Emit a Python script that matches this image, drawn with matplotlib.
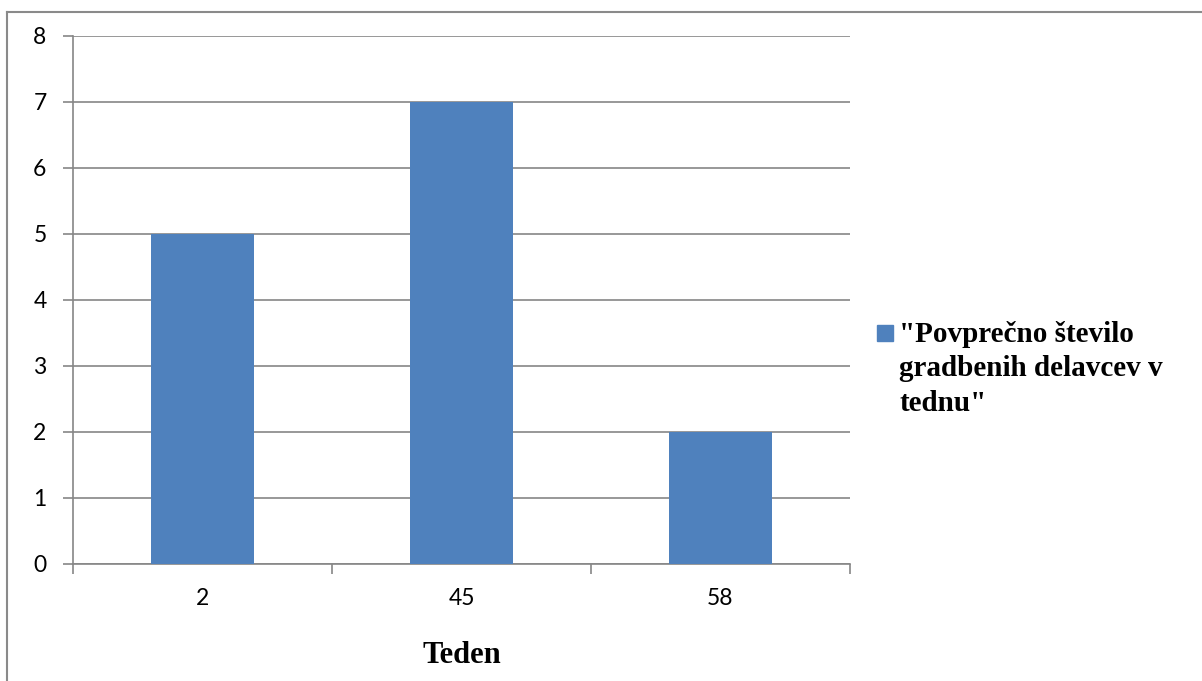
import matplotlib
matplotlib.use("Agg")
import matplotlib.pyplot as plt
from matplotlib.patches import Rectangle
from matplotlib.lines import Line2D

# weekly values
weeks = ["2", "45", "58"]
workers = [5, 7, 2]
series_label = '"Povprečno število\ngradbenih delavcev v\ntednu"'
x_label = "Teden"

bar_color = "#4F81BD"
grid_color = "#868686"

fig = plt.figure(figsize=(12.02, 6.81), dpi=100)
ax = fig.add_axes([73 / 1202, 1 - 564 / 681, 777 / 1202, 528 / 681])

pos = list(range(len(weeks)))
ax.bar(pos, workers, width=0.4, color=bar_color, zorder=3)

ax.set_xlim(-0.5, len(weeks) - 0.5)
ax.set_ylim(0, 8)
ax.set_yticks(range(0, 9))
ax.yaxis.grid(True, color=grid_color, linewidth=1.2, zorder=0)

# category labels in the middle, tick marks on the boundaries
ax.set_xticks(pos)
ax.set_xticklabels(weeks)
ax.set_xticks([p - 0.5 for p in pos] + [len(weeks) - 0.5], minor=True)
ax.tick_params(axis="x", which="major", length=0, pad=17.5, labelsize=16.5)
ax.tick_params(axis="x", which="minor", length=7, width=1.2, color=grid_color)
ax.tick_params(axis="y", length=7, width=1.2, color=grid_color, pad=12, labelsize=16.5)
for lab in ax.get_xticklabels() + ax.get_yticklabels():
    lab.set_fontfamily("Lato")

for side in ["top", "right"]:
    ax.spines[side].set_visible(False)
for side in ["left", "bottom"]:
    ax.spines[side].set_color(grid_color)
    ax.spines[side].set_linewidth(1.2)

ax.set_xlabel(x_label, fontfamily="Liberation Serif", fontweight="bold",
              fontsize=22, labelpad=22.5)

# legend drawn beside the plot
fig.patches.append(Rectangle((877 / 1202, 1 - 341 / 681), 16 / 1202, 16 / 681,
                             transform=fig.transFigure, color=bar_color))
fig.text(899 / 1202, 1 - 321 / 681, series_label, ha="left", va="top",
         fontfamily="Liberation Serif", fontweight="bold", fontsize=21,
         linespacing=1.35)

# chart area frame
fig.add_artist(Line2D([7 / 1202, 7 / 1202], [0, 1 - 12 / 681],
                      transform=fig.transFigure, color="#8a8a8a", linewidth=1.5))
fig.add_artist(Line2D([7 / 1202, 1], [1 - 12 / 681, 1 - 12 / 681],
                      transform=fig.transFigure, color="#8a8a8a", linewidth=1.5))

fig.savefig("out.png", dpi=100)
